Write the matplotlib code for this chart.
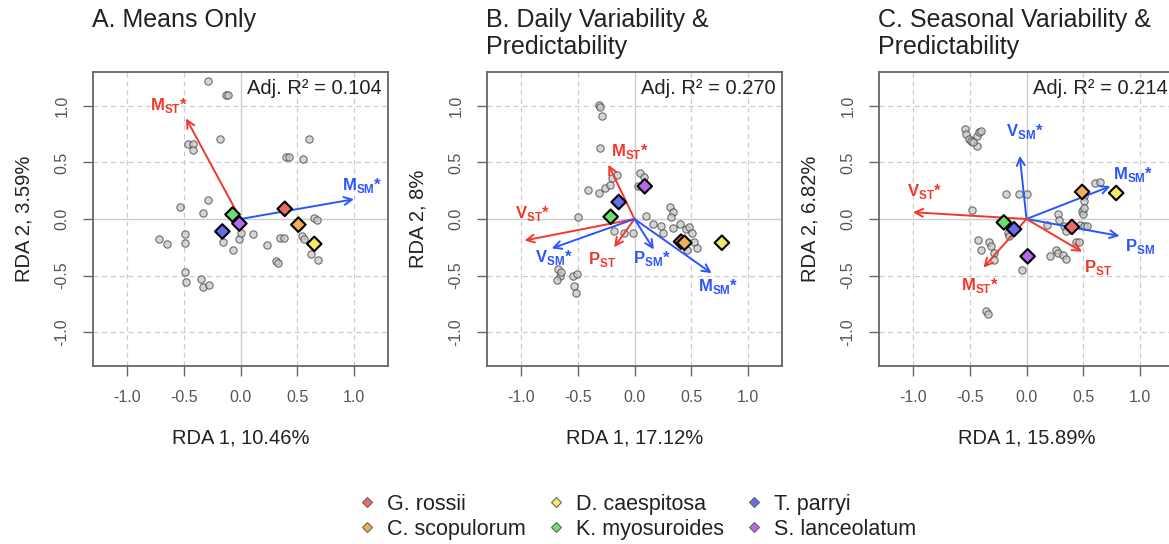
import matplotlib
matplotlib.use("Agg")
import matplotlib.pyplot as plt
from matplotlib.lines import Line2D

plt.rcParams['font.family'] = ['Liberation Sans', 'DejaVu Sans']
plt.rcParams['mathtext.fontset'] = 'custom'
plt.rcParams['mathtext.rm'] = 'Liberation Sans'
plt.rcParams['mathtext.bf'] = 'Liberation Sans:bold'

RED = '#F2382C'
BLUE = '#2B55FF'

species = ['G. rossii', 'C. scopulorum', 'D. caespitosa',
           'K. myosuroides', 'T. parryi', 'S. lanceolatum']
sp_colors = ['#EE6A6A', '#F2AE55', '#F0E868', '#6ADF6A', '#6A6AEE', '#B56AEE']

titles = ['A. Means Only', 'B. Daily Variability &\nPredictability',
          'C. Seasonal Variability &\nPredictability']
r2 = ['0.104', '0.270', '0.214']
xlabs = ['RDA 1, 10.46%', 'RDA 1, 17.12%', 'RDA 1, 15.89%']
ylabs = ['RDA 2, 3.59%', 'RDA 2, 8%', 'RDA 2, 6.82%']

# site scores (grey circles)
a_px = [-0.29, -0.13, -0.11, -0.18, -0.46, -0.42, -0.42, -0.29, -0.53, -0.33,
        -0.72, -0.65, -0.49, -0.49, -0.15, -0.07, -0.01, 0.0, 0.11, 0.23,
        0.31, 0.33, 0.35, 0.38, 0.40, 0.43, 0.55, 0.60, 0.54, 0.56,
        0.65, 0.67, 0.62, 0.68, -0.49, -0.48, -0.35, -0.33, -0.28]
a_py = [1.22, 1.10, 1.10, 0.71, 0.66, 0.66, 0.61, 0.17, 0.11, 0.05,
        -0.18, -0.22, -0.13, -0.21, -0.20, -0.27, -0.18, -0.12, -0.13, -0.23,
        -0.37, -0.39, -0.17, -0.17, 0.55, 0.55, 0.53, 0.71, -0.15, -0.18,
        0.01, -0.01, -0.31, -0.36, -0.47, -0.56, -0.53, -0.60, -0.58]

b_px = [-0.31, -0.30, -0.29, -0.30, -0.41, -0.31, -0.26, -0.22, -0.20, -0.15,
        0.05, 0.08, 0.03, -0.50, -0.18, -0.09, -0.01, 0.10, 0.16, 0.23,
        0.25, 0.34, 0.31, 0.34, 0.32, 0.40, 0.45, 0.48, 0.51, 0.52,
        0.55, 0.46, 0.40, 0.43, -0.67, -0.66, -0.68, -0.65, -0.54, -0.53,
        -0.52, -0.51]
b_py = [1.01, 0.99, 0.91, 0.63, 0.26, 0.23, 0.27, 0.30, 0.36, 0.39,
        0.41, 0.37, 0.29, 0.02, -0.11, -0.12, -0.12, 0.03, -0.04, -0.06,
        -0.12, -0.08, 0.11, 0.06, 0.02, -0.04, -0.09, -0.07, -0.12, -0.20,
        -0.26, -0.27, -0.21, -0.18, -0.44, -0.50, -0.54, -0.47, -0.50, -0.59,
        -0.65, -0.49]

c_px = [-0.54, -0.53, -0.51, -0.49, -0.44, -0.42, -0.40, -0.44, -0.47, -0.18,
        -0.07, 0.0, -0.48, -0.43, -0.40, -0.33, -0.31, -0.29, -0.29, -0.16,
        -0.15, -0.04, -0.36, -0.34, 0.18, 0.28, 0.29, 0.33, 0.35, 0.21,
        0.26, 0.28, 0.32, 0.35, 0.44, 0.46, 0.47, 0.51, 0.53, 0.51,
        0.51, 0.49, 0.50, 0.51, 0.60, 0.65]
c_py = [0.80, 0.75, 0.71, 0.69, 0.73, 0.77, 0.78, 0.65, 0.68, 0.22,
        0.22, 0.22, 0.08, -0.19, -0.27, -0.20, -0.24, -0.30, -0.36, -0.12,
        -0.15, -0.45, -0.81, -0.84, -0.05, 0.04, -0.01, -0.06, -0.11, -0.33,
        -0.27, -0.30, -0.32, -0.35, -0.20, -0.20, -0.05, -0.06, -0.06, 0.20,
        0.16, 0.07, 0.04, 0.10, 0.32, 0.33]

# species scores (diamonds), order as in species list
a_sx = [0.39, 0.51, 0.65, -0.07, -0.16, -0.01]
a_sy = [0.09, -0.05, -0.22, 0.04, -0.11, -0.04]
b_sx = [0.41, 0.44, 0.77, -0.21, -0.14, 0.09]
b_sy = [-0.20, -0.21, -0.21, 0.02, 0.15, 0.29]
c_sx = [0.40, 0.49, 0.79, -0.20, -0.11, 0.01]
c_sy = [-0.07, 0.24, 0.23, -0.03, -0.09, -0.33]

# environmental vectors: (name, sub, star, colour, tip x, tip y, label x, label y)
a_vec = [('M', 'ST', True, RED, -0.48, 0.89, -0.63, 1.00),
         ('M', 'SM', True, BLUE, 1.00, 0.175, 1.07, 0.30)]
b_vec = [('M', 'ST', True, RED, -0.23, 0.48, -0.04, 0.60),
         ('V', 'ST', True, RED, -0.97, -0.19, -0.90, 0.05),
         ('P', 'ST', False, RED, -0.18, -0.25, -0.29, -0.36),
         ('V', 'SM', True, BLUE, -0.73, -0.26, -0.71, -0.34),
         ('P', 'SM', True, BLUE, 0.17, -0.27, 0.15, -0.35),
         ('M', 'SM', True, BLUE, 0.68, -0.48, 0.74, -0.60)]
c_vec = [('V', 'SM', True, BLUE, -0.06, 0.56, -0.01, 0.77),
         ('M', 'SM', True, BLUE, 0.74, 0.29, 0.94, 0.39),
         ('P', 'SM', False, BLUE, 0.82, -0.15, 1.00, -0.24),
         ('V', 'ST', True, RED, -1.00, 0.06, -0.90, 0.24),
         ('M', 'ST', True, RED, -0.38, -0.43, -0.41, -0.59),
         ('P', 'ST', False, RED, 0.49, -0.29, 0.63, -0.43)]

panels = [(a_px, a_py, a_sx, a_sy, a_vec),
          (b_px, b_py, b_sx, b_sy, b_vec),
          (c_px, c_py, c_sx, c_sy, c_vec)]

W, H = 1169, 544
fig = plt.figure(figsize=(W / 100, H / 100), dpi=100)
lefts = [93, 487, 879]
ticks = [-1.0, -0.5, 0.0, 0.5, 1.0]

for i, (px, py, sx, sy, vecs) in enumerate(panels):
    ax = fig.add_axes([lefts[i] / W, (H - 366) / H, 295 / W, 294 / H])
    ax.set_xlim(-1.3, 1.3)
    ax.set_ylim(-1.3, 1.3)
    for t in [-1.0, -0.5, 0.5, 1.0]:
        ax.axhline(t, color='#CCCCCC', lw=0.9, ls=(0, (4, 3)), zorder=0)
        ax.axvline(t, color='#CCCCCC', lw=0.9, ls=(0, (4, 3)), zorder=0)
    ax.axhline(0, color='#CCCCCC', lw=1.0, zorder=0)
    ax.axvline(0, color='#CCCCCC', lw=1.0, zorder=0)

    ax.scatter(px, py, s=28, facecolor='#C8C8C8', edgecolor='#444444',
               linewidth=0.8, alpha=0.75, zorder=2)

    for name, sub, star, col, tx, ty, lx, ly in vecs:
        ax.annotate('', xy=(tx, ty), xytext=(0, 0),
                    arrowprops=dict(arrowstyle='->', color=col, lw=1.4,
                                    mutation_scale=14, shrinkA=0, shrinkB=0),
                    zorder=3)
        lab = r'$\mathbf{%s}_{\mathbf{%s}}$' % (name, sub)
        if star:
            lab += '*'
        ax.text(lx, ly, lab, color=col, fontsize=12, fontweight='bold',
                ha='center', va='center', zorder=5)

    ax.scatter(sx, sy, s=55, marker='D', c=sp_colors, edgecolor='black',
               linewidth=1.5, zorder=4)

    ax.text(0.98, 0.975, 'Adj. R\u00b2 = ' + r2[i], transform=ax.transAxes,
            ha='right', va='top', fontsize=14.5, color='#222222')

    ax.set_xticks(ticks)
    ax.set_yticks(ticks)
    ax.set_xticklabels(['-1.0', '-0.5', '0.0', '0.5', '1.0'])
    ax.set_yticklabels(['-1.0', '-0.5', '0.0', '0.5', '1.0'],
                       rotation=90, va='center')
    ax.tick_params(direction='out', length=7, width=1, color='#666666',
                   labelcolor='#555555', labelsize=11.5, pad=10)
    for s in ax.spines.values():
        s.set_color('#666666')
        s.set_linewidth(1.3)
    ax.set_xlabel(xlabs[i], fontsize=14.5, color='#222222', labelpad=17)
    ax.set_ylabel(ylabs[i], fontsize=14.5, color='#222222', labelpad=15)

    fig.text((lefts[i] - 1) / W, 1 - 8 / H, titles[i], ha='left', va='top',
             fontsize=18, color='#222222', linespacing=1.15)

handles = [Line2D([], [], marker='D', ls='none', markersize=5,
                  markerfacecolor=c, markeredgecolor='#666666',
                  markeredgewidth=0.8) for c in sp_colors]
fig.legend(handles, species, ncol=3, loc='center',
           bbox_to_anchor=(0.545, 0.05), frameon=False, fontsize=15.5,
           handletextpad=0.48, columnspacing=0.95, labelspacing=0.2,
           handlelength=0.9, borderpad=0, labelcolor='#222222')

fig.savefig('out.png', dpi=100)
